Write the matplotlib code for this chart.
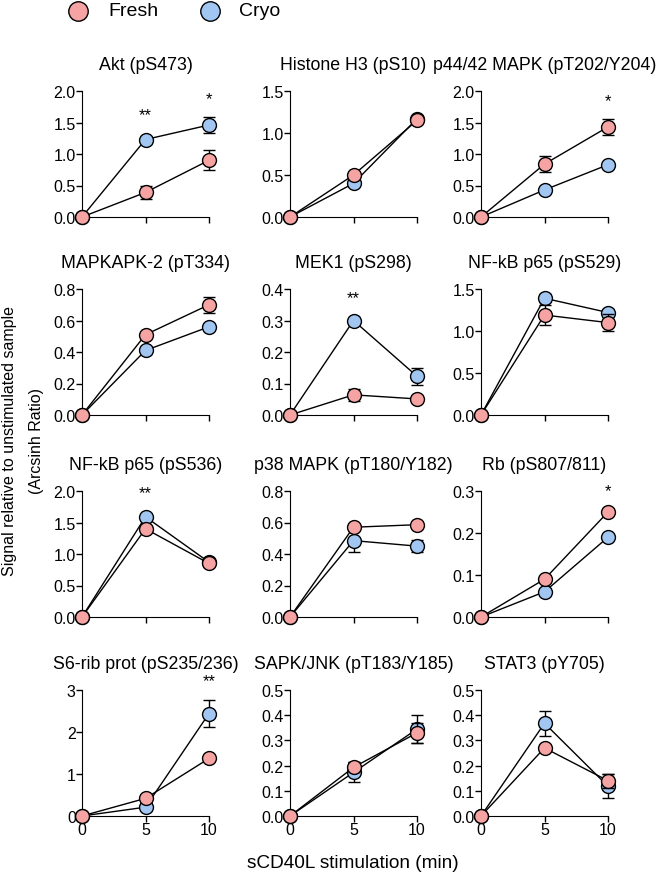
import matplotlib
matplotlib.use("Agg")
import matplotlib.pyplot as plt
from matplotlib.lines import Line2D

plt.rcParams['font.family'] = ['Liberation Sans', 'DejaVu Sans']

# time points (min)
times = [0, 5, 10]

titles = ["Akt (pS473)", "Histone H3 (pS10)", "p44/42 MAPK (pT202/Y204)",
          "MAPKAPK-2 (pT334)", "MEK1 (pS298)", "NF-kB p65 (pS529)",
          "NF-kB p65 (pS536)", "p38 MAPK (pT180/Y182)", "Rb (pS807/811)",
          "S6-rib prot (pS235/236)", "SAPK/JNK (pT183/Y185)", "STAT3 (pY705)"]

fresh = [[0, 0.39, 0.90], [0, 0.50, 1.15], [0, 0.84, 1.43],
         [0, 0.51, 0.70], [0, 0.064, 0.051], [0, 1.19, 1.10],
         [0, 1.40, 0.85], [0, 0.57, 0.586], [0, 0.09, 0.25],
         [0, 0.42, 1.37], [0, 0.193, 0.33], [0, 0.27, 0.14]]
fresh_err = [[0, 0.10, 0.16], [0, 0.02, 0.02], [0, 0.13, 0.13],
             [0, 0.01, 0.05], [0, 0.02, 0.01], [0, 0.12, 0.10],
             [0, 0.02, 0.02], [0, 0.01, 0.01], [0, 0.005, 0.005],
             [0, 0.03, 0.03], [0, 0.02, 0.04], [0, 0.01, 0.027]]
cryo = [[0, 1.23, 1.46], [0, 0.40, 1.17], [0, 0.43, 0.83],
        [0, 0.41, 0.56], [0, 0.30, 0.123], [0, 1.39, 1.22],
        [0, 1.59, 0.87], [0, 0.485, 0.45], [0, 0.06, 0.19],
        [0, 0.21, 2.44], [0, 0.173, 0.345], [0, 0.368, 0.118]]
cryo_err = [[0, 0.03, 0.12], [0, 0.02, 0.02], [0, 0.02, 0.02],
            [0, 0.01, 0.01], [0, 0.005, 0.027], [0, 0.05, 0.04],
            [0, 0.02, 0.03], [0, 0.075, 0.04], [0, 0.005, 0.005],
            [0, 0.03, 0.33], [0, 0.04, 0.055], [0, 0.05, 0.048]]

ymax = [2.0, 1.5, 2.0, 0.8, 0.4, 1.5, 2.0, 0.8, 0.3, 3, 0.5, 0.5]
ystep = [0.5, 0.5, 0.5, 0.2, 0.1, 0.5, 0.5, 0.2, 0.1, 1, 0.1, 0.1]
yfmt = ["%.1f"] * 9 + ["%d", "%.1f", "%.1f"]

# significance stars: (panel, time, y, text)
stars = [(0, 5, 1.63, "**"), (0, 10, 1.88, "*"), (2, 10, 1.85, "*"),
         (4, 5, 0.372, "**"), (6, 5, 1.97, "**"), (8, 10, 0.30, "*"),
         (9, 10, 3.22, "**")]

fresh_col = "#F5A3A3"
cryo_col = "#A2C6F2"

W, H = 657, 878
fig = plt.figure(figsize=(W / 100, H / 100), dpi=100)

col_left = [82, 290, 481]
row_top = [92, 290, 492, 691]
aw, ah = 127, 126

axes = []
for i in range(12):
    r, c = divmod(i, 3)
    ax = fig.add_axes([col_left[c] / W, 1 - (row_top[r] + ah) / H, aw / W, ah / H])
    axes.append(ax)
    for vals, err, col, z in [(cryo[i], cryo_err[i], cryo_col, 3), (fresh[i], fresh_err[i], fresh_col, 4)]:
        ax.errorbar(times, vals, yerr=err, color='black', lw=1, elinewidth=1,
                    capsize=4, capthick=1, zorder=z, clip_on=False)
        ax.plot(times, vals, 'o', ms=10, mfc=col, mec='black', mew=1, zorder=z + 0.5, clip_on=False)
    ax.set_xlim(0, 10)
    ax.set_ylim(0, ymax[i])
    n = int(round(ymax[i] / ystep[i]))
    yt = [k * ystep[i] for k in range(n + 1)]
    ax.set_yticks(yt)
    ax.set_yticklabels([yfmt[i] % v for v in yt])
    ax.set_xticks(times)
    if r < 3:
        ax.set_xticklabels([])
    ax.spines['top'].set_visible(False)
    ax.spines['right'].set_visible(False)
    ax.tick_params(direction='out', length=4, width=1, labelsize=11.5, pad=0.5)
    ax.set_title(titles[i], fontsize=12.8, pad=16)

for p, t, y, s in stars:
    axes[p].text(t, y, s, ha='center', va='center', fontsize=12)

fig.text(10 / W, 1 - 441 / H, "Signal relative to unstimulated sample",
         rotation=90, ha='center', va='center', fontsize=11.5)
fig.text(36 / W, 1 - 441 / H, "(Arcsinh Ratio)",
         rotation=90, ha='center', va='center', fontsize=11.5)
fig.text(353 / W, 1 - 864 / H, "sCD40L stimulation (min)", ha='center', va='center', fontsize=13.7)

# legend at the top
fig.add_artist(Line2D([78 / W], [1 - 12 / H], marker='o', ms=14, mfc=fresh_col, mec='black',
                      mew=1, transform=fig.transFigure))
fig.text(108 / W, 1 - 12 / H, "Fresh", ha='left', va='center', fontsize=14)
fig.add_artist(Line2D([210 / W], [1 - 12 / H], marker='o', ms=14, mfc=cryo_col, mec='black',
                      mew=1, transform=fig.transFigure))
fig.text(239 / W, 1 - 12 / H, "Cryo", ha='left', va='center', fontsize=14)

fig.savefig("out.png", dpi=100)
